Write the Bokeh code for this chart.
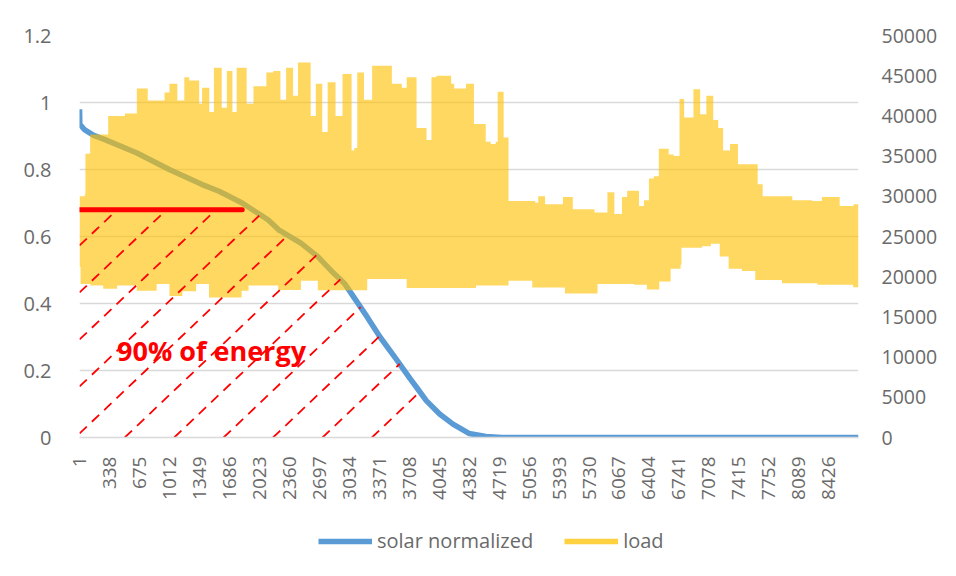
import numpy as np
from bokeh.plotting import figure
from bokeh.layouts import column
from bokeh.models import (Range1d, LinearAxis, FixedTicker, Legend, LegendItem, Label)
from bokeh.embed import file_html
from bokeh.resources import INLINE

# ---------------- data ----------------
x_ticks = [1, 338, 675, 1012, 1349, 1686, 2023, 2360, 2697, 3034, 3371, 3708,
           4045, 4382, 4719, 5056, 5393, 5730, 6067, 6404, 6741, 7078, 7415,
           7752, 8089, 8426]
left_ticks = [0, 0.2, 0.4, 0.6, 0.8, 1.0, 1.2]
left_labels = ["0", "0.2", "0.4", "0.6", "0.8", "1", "1.2"]
right_ticks = [0, 5000, 10000, 15000, 20000, 25000, 30000, 35000, 40000, 45000, 50000]

# solar normalized (sorted duration curve)
solar_hour = [1, 4, 60, 160, 280, 640, 1010, 1380, 1570, 1830, 2120, 2240, 2490,
              2680, 2860, 2980, 3235, 3380, 3560, 3720, 3790, 3900, 4050, 4200,
              4380, 4570, 4750, 8760]
solar_value = [0.98, 0.935, 0.918, 0.902, 0.89, 0.85, 0.80, 0.755, 0.735, 0.70,
               0.65, 0.62, 0.58, 0.54, 0.49, 0.46, 0.36, 0.30, 0.235, 0.175,
               0.15, 0.11, 0.07, 0.04, 0.012, 0.003, 0.0, 0.0]

# load: upper envelope of the hourly series (value holds until next hour listed)
load_hi_hour = [1, 60, 67, 110, 120, 290, 323, 456, 512, 623, 645, 734, 768, 901,
                957, 990, 1012, 1068, 1101, 1170, 1179, 1234, 1290, 1346, 1379,
                1435, 1460, 1512, 1590, 1600, 1657, 1701, 1720, 1768, 1846, 1880,
                1957, 2068, 2102, 2146, 2179, 2235, 2260, 2324, 2368, 2402, 2457,
                2569, 2600, 2658, 2700, 2730, 2791, 2847, 2880, 2958, 3036, 3060,
                3090, 3124, 3180, 3200, 3291, 3458, 3513, 3625, 3680, 3769, 3791,
                3903, 3958, 4014, 4069, 4180, 4214, 4292, 4347, 4403, 4436, 4547,
                4569, 4625, 4681, 4703, 4747, 4770, 4814, 4825, 5125, 5159, 5214,
                5236, 5403, 5437, 5515, 5548, 5792, 5904, 5937, 5993, 6015, 6070,
                6100, 6126, 6159, 6237, 6292, 6348, 6404, 6459, 6515, 6571, 6626,
                6682, 6737, 6748, 6793, 6800, 6849, 6904, 6960, 6980, 7016, 7049,
                7094, 7127, 7183, 7216, 7238, 7294, 7316, 7383, 7405, 7594, 7627,
                7683, 7905, 8016, 8238, 8349, 8516, 8549, 8683, 8705, 8750, 8760]
load_hi = [30000, 30300, 35300, 35300, 37700, 37700, 40000, 40000, 40300, 40300,
           43400, 43400, 41900, 41900, 42900, 42900, 44000, 44000, 41900, 41900,
           44800, 44400, 44400, 41500, 43500, 43500, 40500, 46000, 46000, 41000,
           45600, 45600, 40500, 46000, 46000, 41500, 43700, 43700, 45400, 45400,
           45600, 45600, 42000, 46000, 46000, 42500, 46650, 46650, 40000, 44000,
           44000, 38000, 44200, 44200, 40000, 45200, 45200, 35700, 36000, 45400,
           45400, 42000, 46250, 46250, 44000, 43500, 44800, 44800, 38500, 37000,
           44800, 45000, 45000, 44000, 43400, 43400, 44000, 44000, 39000, 39000,
           36800, 36500, 36800, 43000, 43000, 37300, 37300, 29400, 29200, 30000,
           30000, 29000, 29000, 29900, 29900, 28400, 28000, 28000, 30500, 30500,
           27800, 27800, 29900, 29900, 30700, 30700, 28800, 29500, 32200, 32500,
           35900, 35900, 35200, 35000, 35000, 42100, 42100, 39800, 39800, 43300,
           43300, 40200, 40200, 42500, 42500, 39500, 38500, 38500, 35700, 35700,
           36500, 36500, 34000, 34000, 31500, 30000, 30000, 29500, 29400, 29900,
           29900, 28800, 28800, 29000, 29000, 26500]

# load: lower envelope of the hourly series (value holds until next hour listed)
load_lo_hour = [1, 12, 123, 267, 423, 645, 868, 1012, 1157, 1312, 1457, 1824,
                1902, 2124, 2235, 2491, 2680, 3236, 3680, 4459, 4825, 5092, 5459,
                5826, 6237, 6381, 6520, 6648, 6760, 6770, 7000, 7100, 7150, 7200,
                7300, 7450, 7600, 7900, 8300, 8700, 8760]
load_lo = [21200, 19100, 18900, 18500, 18900, 18250, 19100, 17600, 18200, 19100,
           17400, 18250, 18900, 18900, 18350, 19500, 18300, 19700, 18600, 18900,
           19500, 18650, 17900, 19100, 19000, 18400, 19400, 21000, 21500, 23600,
           23800, 24100, 24100, 22500, 21000, 20700, 19600, 19200, 19000, 18700,
           19500]

# annotation
share_line_level = 0.68
share_line_end = 1830
annotation_text = "90% of energy"
series_names = ["solar normalized", "load"]

# ---------------- styles ----------------
FONT = "Open Sans"
GRAY_TXT = "#6a6a6a"
GRID = "#d9d9d9"
BLUE = "#5B9BD5"
YELLOW = "#FFC000"
RED = "#FF0000"

W = 940
p = figure(width=W, height=510, output_backend="svg", toolbar_location=None,
           x_range=Range1d(0.5, 8760.5), y_range=Range1d(0, 1.2),
           min_border_left=79, min_border_right=W - 79 - 788, min_border_top=35,
           min_border_bottom=510 - 35 - 402)
p.outline_line_color = None
p.background_fill_color = "white"
p.border_fill_color = "white"

p.extra_y_ranges = {"load": Range1d(0, 50000)}

# left axis
p.yaxis.ticker = FixedTicker(ticks=left_ticks)
p.yaxis.major_label_overrides = {t: s for t, s in zip(left_ticks, left_labels)}
p.yaxis.axis_line_color = None
p.yaxis.major_tick_line_color = None
p.yaxis.minor_tick_line_color = None
p.yaxis.major_label_standoff = 22
p.yaxis.major_label_text_font = FONT
p.yaxis.major_label_text_font_size = "20px"
p.yaxis.major_label_text_color = GRAY_TXT

# right axis
ra = LinearAxis(y_range_name="load", ticker=FixedTicker(ticks=right_ticks))
ra.axis_line_color = None
ra.major_tick_line_color = None
ra.minor_tick_line_color = None
ra.major_label_standoff = 17
ra.major_label_text_font = FONT
ra.major_label_text_font_size = "19.5px"
ra.major_label_text_color = GRAY_TXT
p.add_layout(ra, "right")

# bottom axis
p.xaxis.ticker = FixedTicker(ticks=x_ticks)
p.xaxis.major_label_orientation = np.pi / 2
p.xaxis.axis_line_color = GRID
p.xaxis.axis_line_width = 1.5
p.xaxis.major_tick_line_color = None
p.xaxis.minor_tick_line_color = None
p.xaxis.major_label_standoff = 13
p.xaxis.major_label_text_font = FONT
p.xaxis.major_label_text_font_size = "19px"
p.xaxis.major_label_text_color = GRAY_TXT

p.xgrid.grid_line_color = None
p.ygrid.grid_line_color = GRID
p.ygrid.grid_line_width = 1.3

# solar line (under the load)
solar_r = p.line(solar_hour, solar_value, line_color=BLUE, line_width=5.5,
                 line_join="round")


def steps(xs, vs, x_end):
    ox, oy = [], []
    for i, (x, v) in enumerate(zip(xs, vs)):
        nx = xs[i + 1] if i + 1 < len(xs) else x_end
        ox += [x, nx]
        oy += [v, v]
    return ox, oy


ux, uy = steps(load_hi_hour, load_hi, 8760.5)
lx, ly = steps(load_lo_hour, load_lo, 8760.5)
poly_x = ux + lx[::-1]
poly_y = uy + ly[::-1]
p.patch(poly_x, poly_y, y_range_name="load", fill_color=YELLOW, fill_alpha=0.62,
        line_color=None)

# hatch (dashed diagonals below the 90% threshold)
px_per_hour = 788 / 8760.0
px_per_unit = 402 / 1.2
slope = 0.94 * px_per_hour / px_per_unit  # data units per hour
spacing = 50 / px_per_hour
intercepts = np.arange(-2270.0, 3300.0, spacing)
hx, hy = [], []
for x0 in intercepts:
    xs_ = max(x0, 1.0)
    xx = np.linspace(xs_, xs_ + 4000, 4001)
    yy = slope * (xx - x0)
    bound = np.interp(xx, solar_hour, solar_value)
    bound = np.where(xx <= share_line_end, np.minimum(bound, share_line_level), bound)
    idx = np.argmax(yy >= bound)
    hx.append([xx[0], xx[idx]])
    hy.append([yy[0], yy[idx]])
p.multi_line(hx, hy, line_color=RED, line_width=1.8, line_dash="10 7")

# threshold line
p.line([1, share_line_end], [share_line_level, share_line_level], line_color=RED,
       line_width=5, line_cap="round")

p.add_layout(Label(x=423, y=0.259, text=annotation_text, text_font=FONT,
                   text_font_style="bold", text_font_size="27px", text_color=RED,
                   text_align="left", text_baseline="alphabetic"))

# legend strip below the chart (its frame is aligned with the chart frame)
lg = figure(width=W, height=50, output_backend="svg", toolbar_location=None,
            x_range=Range1d(0, 1), y_range=Range1d(0, 1), min_border=0)
lg.axis.visible = False
lg.grid.visible = False
lg.outline_line_color = None
lg.border_fill_color = "white"
r1 = lg.line([-5, -4], [-5, -4], line_color=BLUE, line_width=5.5)
r2 = lg.line([-5, -4], [-5, -4], line_color=YELLOW, line_alpha=0.75, line_width=5.5)
legend = Legend(items=[LegendItem(label=series_names[0], renderers=[r1]),
                       LegendItem(label=series_names[1], renderers=[r2])],
                orientation="horizontal", location=(239, 6),
                glyph_width=54, glyph_height=22, label_standoff=5, spacing=31,
                padding=0, margin=0, border_line_alpha=0, background_fill_alpha=0,
                label_text_font=FONT, label_text_font_size="20px",
                label_text_color=GRAY_TXT)
lg.add_layout(legend, "center")

layout = column(p, lg, spacing=0)
open("out.html", "w").write(file_html(layout, INLINE))
